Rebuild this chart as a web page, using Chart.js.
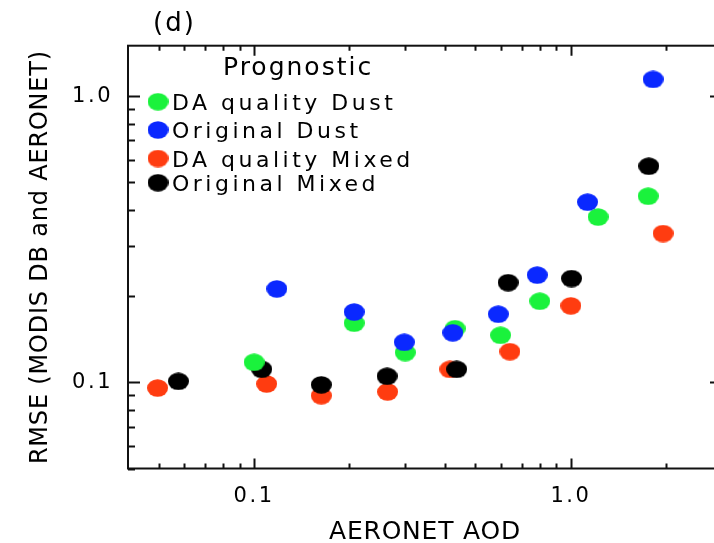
<!DOCTYPE html>
<html>
<head>
<meta charset="utf-8">
<script src="https://cdn.jsdelivr.net/npm/chart.js@4.4.1/dist/chart.umd.min.js"></script>
<style>
  html, body { margin: 0; padding: 0; background: #fff; overflow: hidden; }
  #wrap { width: 714px; height: 543px; overflow: hidden; }
</style>
</head>
<body>
<div id="wrap"><canvas id="rmseChart" width="740" height="548"></canvas></div>
<script>
// AERONET AOD (x) and RMSE (y)
const daDustAod = [0.100, 0.207, 0.300, 0.431, 0.600, 0.798, 1.219, 1.754];
const daDustRmse = [0.1175, 0.161, 0.127, 0.154, 0.146, 0.192, 0.378, 0.447];

const origDustAod = [0.118, 0.207, 0.298, 0.424, 0.590, 0.783, 1.129, 1.818];
const origDustRmse = [0.212, 0.176, 0.138, 0.149, 0.173, 0.237, 0.426, 1.144];

const daMixedAod = [0.0496, 0.1096, 0.163, 0.264, 0.415, 0.642, 1.0, 1.955];
const daMixedRmse = [0.0955, 0.0987, 0.0898, 0.0926, 0.111, 0.128, 0.185, 0.331];

const origMixedAod = [0.0577, 0.1057, 0.163, 0.263, 0.436, 0.634, 1.005, 1.762];
const origMixedRmse = [0.1008, 0.111, 0.098, 0.105, 0.111, 0.223, 0.2305, 0.569];

const seriesNames = ['DA quality Dust', 'Original Dust', 'DA quality Mixed', 'Original Mixed'];
const seriesColors = ['#1af23c', '#0a28ff', '#ff3c10', '#000000'];

// axis ticks (log decades) and the ones that carry a label
const xTickValues = [0.05, 0.06, 0.07, 0.08, 0.09, 0.1, 0.2, 0.3, 0.4, 0.5, 0.6, 0.7, 0.8, 0.9, 1, 2];
const yTickValues = [0.05, 0.06, 0.07, 0.08, 0.09, 0.1, 0.2, 0.3, 0.4, 0.5, 0.6, 0.7, 0.8, 0.9, 1];
const majorTicks = [0.1, 1];
const majorTickLabels = ['0.1', '1.0'];

const toPoints = (xs, ys) => xs.map((x, i) => ({ x, y: ys[i] }));

const makeDot = (color) => {
  const c = document.createElement('canvas');
  c.width = 21;
  c.height = 18;
  const g = c.getContext('2d');
  g.fillStyle = color;
  g.beginPath();
  g.ellipse(10.5, 9, 10.5, 8.8, 0, 0, Math.PI * 2);
  g.fill();
  return c;
};

const majorLabel = (value) => {
  const i = majorTicks.findIndex((m) => Math.abs(m - value) < 1e-9);
  return i >= 0 ? majorTickLabels[i] : '';
};

const isMajor = (value) => majorTicks.some((m) => Math.abs(m - value) < 1e-9);

// draw order: blue on top, then green, black, red underneath
const drawOrder = [1, 0, 3, 2];

const datasets = [
  [daDustAod, daDustRmse],
  [origDustAod, origDustRmse],
  [daMixedAod, daMixedRmse],
  [origMixedAod, origMixedRmse],
].map(([xs, ys], i) => ({
  label: seriesNames[i],
  data: toPoints(xs, ys),
  pointStyle: makeDot(seriesColors[i]),
  backgroundColor: seriesColors[i],
  borderColor: seriesColors[i],
  pointRadius: 10,
  order: drawOrder[i],
}));

// IDL-style box with inward ticks on all four sides, plus the in-plot legend
const framePlugin = {
  id: 'frame',
  beforeDraw: (chart) => {
    chart.ctx.letterSpacing = '0.8px';
  },
  beforeDatasetsDraw: (chart) => {
    const { ctx, chartArea: a } = chart;
    const xs = chart.scales.x;
    const ys = chart.scales.y;
    ctx.save();
    ctx.strokeStyle = '#111';
    ctx.lineWidth = 2;
    ctx.strokeRect(a.left, a.top, a.right - a.left, a.bottom - a.top);
    ctx.beginPath();
    xTickValues.forEach((v) => {
      const px = Math.round(xs.getPixelForValue(v)) + 0.5;
      const len = isMajor(v) ? 10 : 5;
      ctx.moveTo(px, a.bottom);
      ctx.lineTo(px, a.bottom - len);
      ctx.moveTo(px, a.top);
      ctx.lineTo(px, a.top + len);
    });
    yTickValues.forEach((v) => {
      const py = Math.round(ys.getPixelForValue(v)) + 0.5;
      const len = isMajor(v) ? 12 : 7;
      ctx.moveTo(a.left, py);
      ctx.lineTo(a.left + len, py);
      ctx.moveTo(a.right, py);
      ctx.lineTo(a.right - len, py);
    });
    ctx.stroke();
    ctx.restore();
  },
  afterDatasetsDraw: (chart) => {
    // tick labels are on a layer above the datasets; the wide plotter font needs extra spacing
    chart.ctx.letterSpacing = '2.5px';
  },
  afterDraw: (chart) => {
    const ctx = chart.ctx;
    ctx.save();
    ctx.fillStyle = '#000';
    ctx.textAlign = 'left';
    ctx.textBaseline = 'alphabetic';

    ctx.letterSpacing = '2px';
    ctx.font = '26px "DejaVu Sans"';
    ctx.fillText('(d)', 153, 31);

    ctx.font = '25px "DejaVu Sans"';
    ctx.fillText('Prognostic', 223, 75);

    ctx.letterSpacing = '3.5px';
    ctx.font = '22px "DejaVu Sans"';
    const rowY = [101.7, 130, 158.5, 182.7];
    chart.data.datasets.forEach((ds, i) => {
      const dot = ds.pointStyle;
      ctx.drawImage(dot, 158 - dot.width / 2, rowY[i] - dot.height / 2);
      ctx.fillText(ds.label, 172, rowY[i] + 8);
    });
    ctx.restore();
    ctx.letterSpacing = '0px';
  },
};

new Chart(document.getElementById('rmseChart'), {
  type: 'scatter',
  data: { datasets },
  plugins: [framePlugin],
  options: {
    responsive: false,
    animation: false,
    layout: { padding: { left: 0, top: 45.7, right: 18, bottom: 0 } },
    plugins: {
      legend: { display: false },
      tooltip: { enabled: false },
    },
    scales: {
      x: {
        type: 'logarithmic',
        min: 0.04,
        max: 3,
        grid: { display: false, drawTicks: false },
        border: { display: false },
        afterBuildTicks: (scale) => {
          scale.ticks = xTickValues.map((value) => ({ value }));
        },
        afterFit: (scale) => {
          scale.height = 79.5;
          scale.paddingLeft = 0;
          scale.paddingRight = 0;
        },
        ticks: {
          z: 1,
          autoSkip: false,
          maxRotation: 0,
          padding: 15,
          color: '#000',
          font: { family: 'DejaVu Sans', size: 21 },
          callback: (value) => majorLabel(value),
        },
        title: {
          display: true,
          text: 'AERONET AOD',
          color: '#000',
          font: { family: 'DejaVu Sans', size: 25, lineHeight: 1 },
          padding: { top: 0, bottom: 3.5 },
        },
      },
      y: {
        type: 'logarithmic',
        min: 0.05,
        max: 1.5,
        grid: { display: false, drawTicks: false },
        border: { display: false },
        afterBuildTicks: (scale) => {
          scale.ticks = yTickValues.map((value) => ({ value }));
        },
        afterFit: (scale) => {
          scale.width = 128;
          scale.paddingTop = 0;
          scale.paddingBottom = 0;
        },
        ticks: {
          z: 1,
          autoSkip: false,
          padding: 15,
          color: '#000',
          font: { family: 'DejaVu Sans', size: 21 },
          callback: (value) => majorLabel(value),
        },
        title: {
          display: true,
          text: 'RMSE (MODIS DB and AERONET)',
          color: '#000',
          font: { family: 'DejaVu Sans', size: 24, lineHeight: 1 },
          padding: { top: 29, bottom: 0 },
        },
      },
    },
  },
});
</script>
</body>
</html>
